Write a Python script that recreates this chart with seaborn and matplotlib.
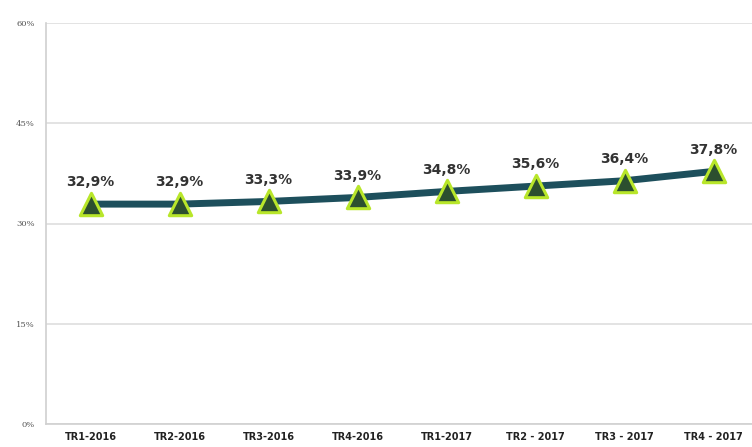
import matplotlib
matplotlib.use("Agg")
import matplotlib.pyplot as plt
import seaborn as sns
import pandas as pd
from matplotlib.ticker import FixedLocator

categories = ["TR1-2016", "TR2-2016", "TR3-2016", "TR4-2016",
              "TR1-2017", "TR2 - 2017", "TR3 - 2017", "TR4 - 2017"]
values = [32.9, 32.9, 33.3, 33.9, 34.8, 35.6, 36.4, 37.8]
labels = ["32,9%", "32,9%", "33,3%", "33,9%", "34,8%", "35,6%", "36,4%", "37,8%"]
yticks = [0, 15, 30, 45, 60]
ytick_labels = ["0%", "15%", "30%", "45%", "60%"]

df = pd.DataFrame({"cat": categories, "val": values})

sns.set_theme(style="white")
fig = plt.figure(figsize=(7.52, 4.47), dpi=100)
ax = fig.add_axes([46/752, 23/447, (752-46)/752, (424-23)/447])

sns.lineplot(data=df, x="cat", y="val", ax=ax, color="#1d4f5c", linewidth=5,
             sort=False, zorder=3)
sns.scatterplot(data=df, x="cat", y="val", ax=ax, marker="^", s=260,
                color="#2c4f2f", edgecolor="#b8e62a", linewidth=2.2, zorder=4)

for i, (v, lab) in enumerate(zip(values, labels)):
    ax.text(i, v + 2.2, lab, ha="center", va="bottom", fontsize=10,
            fontweight="bold", color="#333333")

ax.set_ylim(0, 60)
ax.set_xlim(-0.5, 7.43)
ax.set_yticks(yticks)
ax.set_yticklabels(ytick_labels, fontsize=6, color="#555555", family="DejaVu Serif")
ax.set_xticks(range(len(categories)))
ax.set_xticklabels(categories, fontsize=7, fontweight="bold", color="#222222")
ax.xaxis.set_minor_locator(FixedLocator([i + 0.5 for i in range(-1, 8)]))
ax.tick_params(axis="x", which="major", length=0, pad=6)
ax.tick_params(axis="x", which="minor", length=4, color="#d0d0d0", width=1)
ax.tick_params(axis="y", length=4, color="#d0d0d0", pad=4)
ax.set_xlabel("")
ax.set_ylabel("")
ax.grid(axis="y", color="#dedede", linewidth=1.2)
ax.grid(axis="x", visible=False)
for s in ["top", "right"]:
    ax.spines[s].set_visible(False)
for s in ["left", "bottom"]:
    ax.spines[s].set_color("#d0d0d0")
    ax.spines[s].set_linewidth(1.2)

fig.savefig("out.png", dpi=100)
